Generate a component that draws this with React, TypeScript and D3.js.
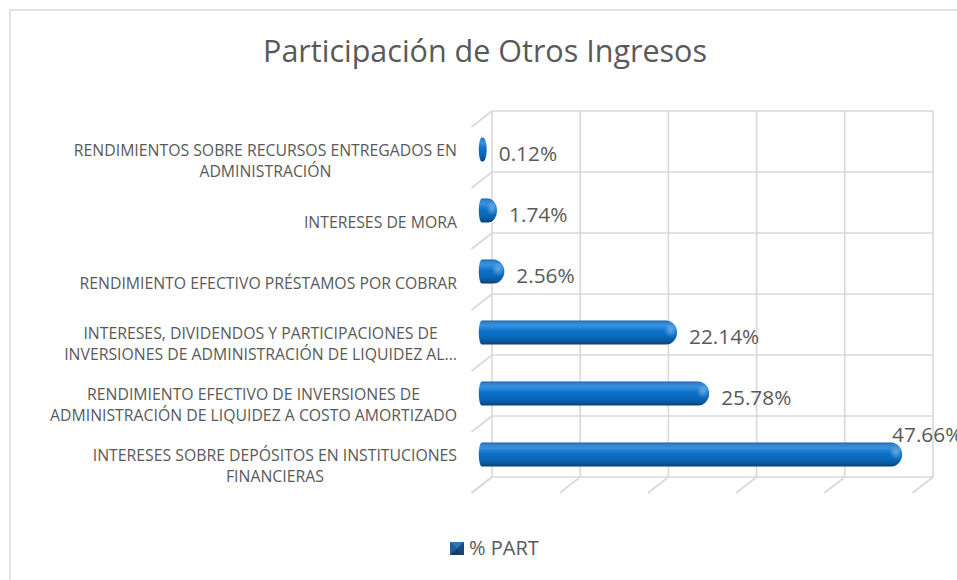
import React, { useEffect, useRef } from "react";
import * as d3 from "d3";

const title = "Participación de Otros Ingresos";
const categoryLines: string[][] = [
  ["RENDIMIENTOS SOBRE RECURSOS ENTREGADOS EN", "ADMINISTRACIÓN"],
  ["INTERESES DE MORA"],
  ["RENDIMIENTO EFECTIVO PRÉSTAMOS POR COBRAR"],
  ["INTERESES, DIVIDENDOS Y PARTICIPACIONES DE", "INVERSIONES DE ADMINISTRACIÓN DE LIQUIDEZ AL..."],
  ["RENDIMIENTO EFECTIVO DE INVERSIONES DE", "ADMINISTRACIÓN DE LIQUIDEZ A COSTO AMORTIZADO"],
  ["INTERESES SOBRE DEPÓSITOS EN INSTITUCIONES", "FINANCIERAS"],
];
const values = [0.12, 1.74, 2.56, 22.14, 25.78, 47.66];
const valueLabels = ["0.12%", "1.74%", "2.56%", "22.14%", "25.78%", "47.66%"];
const xTicks = [0, 10, 20, 30, 40, 50];
const seriesName = "% PART";

const W = 957;
const H = 580;
const FONT = "'Open Sans', 'Noto Sans', sans-serif";
const TXT = "#595959";
const GRID = "#d9d9d9";

export default function App() {
  const ref = useRef<SVGSVGElement | null>(null);

  useEffect(() => {
    const svg = d3.select(ref.current);
    svg.selectAll("*").remove();

    const defs = svg.append("defs");
    const g1 = defs.append("linearGradient").attr("id", "cyl").attr("x1", 0).attr("y1", 0).attr("x2", 0).attr("y2", 1);
    [
      [0, "#1a5c9e"],
      [0.08, "#2f84d2"],
      [0.22, "#3a8fdc"],
      [0.45, "#0a72cc"],
      [0.75, "#0a64b4"],
      [0.92, "#0a4f90"],
      [1, "#083d70"],
    ].forEach(([o, c]) => g1.append("stop").attr("offset", o as number).attr("stop-color", c as string));
    const rg = defs.append("radialGradient").attr("id", "spot");
    rg.append("stop").attr("offset", 0).attr("stop-color", "#ffffff").attr("stop-opacity", 0.35);
    rg.append("stop").attr("offset", 1).attr("stop-color", "#ffffff").attr("stop-opacity", 0);

    // frame
    svg.append("rect").attr("x", 10).attr("y", 10).attr("width", W + 20).attr("height", H + 20)
      .attr("fill", "#fff").attr("stroke", GRID).attr("stroke-width", 1.5);

    // title
    svg.append("text").attr("x", 485).attr("y", 62).attr("text-anchor", "middle")
      .attr("font-family", FONT).attr("font-size", 30.5).attr("fill", TXT).text(title);

    // 3D geometry
    const depthX = -20.5;
    const depthY = 16;
    const xBack = d3.scaleLinear().domain([0, 50]).range([492, 933]);
    const yBack = d3.scaleBand<number>().domain(d3.range(values.length)).range([111, 477]).paddingInner(0).paddingOuter(0);
    const bandTop = 111, bandBot = 477;

    const grid = svg.append("g").attr("stroke", GRID).attr("stroke-width", 1.6).attr("fill", "none");
    xTicks.forEach((t) => {
      grid.append("line").attr("x1", xBack(t)).attr("x2", xBack(t)).attr("y1", bandTop).attr("y2", bandBot);
      grid.append("line").attr("x1", xBack(t)).attr("y1", bandBot).attr("x2", xBack(t) + depthX).attr("y2", bandBot + depthY);
    });
    const bounds = d3.range(values.length + 1).map((i) => bandTop + i * yBack.bandwidth());
    bounds.forEach((y) => {
      grid.append("line").attr("x1", xBack(0)).attr("x2", xBack(50)).attr("y1", y).attr("y2", y);
      grid.append("line").attr("x1", xBack(0)).attr("y1", y).attr("x2", xBack(0) + depthX).attr("y2", y + depthY);
    });

    // bars
    const xMid = (v: number) => xBack(v) + depthX / 2;
    const barH = 24;
    const bars = svg.append("g");
    values.forEach((v, i) => {
      const c = (yBack(i) as number) + yBack.bandwidth() / 2 + depthY / 2;
      const L = xMid(0) - 3;
      const R = Math.max(xMid(v), L + 8);
      const rc = Math.min(11, (R - L) / 2);
      const t = c - barH / 2, b = c + barH / 2;
      const lx = Math.min(L + 3, R - rc);
      bars.append("path")
        .attr("d", `M${lx},${t} H${R - rc} A${rc},${barH / 2} 0 0 1 ${R - rc},${b} H${lx} A3,${barH / 2} 0 0 1 ${lx},${t} Z`)
        .attr("fill", "url(#cyl)");
      if (R - L > 14) {
        bars.append("ellipse").attr("cx", R - rc * 0.55).attr("cy", c - 2).attr("rx", Math.min(7, rc * 0.7)).attr("ry", 7)
          .attr("fill", "url(#spot)");
      }
      const last = i === values.length - 1;
      bars.append("text")
        .attr("x", last ? R - 10 : R + 12)
        .attr("y", last ? c - 13 : c + 11)
        .attr("font-family", FONT).attr("font-size", 20.8).attr("fill", TXT)
        .text(valueLabels[i]);
    });

    // category labels
    const labelRight = 457;
    categoryLines.forEach((lines, i) => {
      const c = (yBack(i) as number) + yBack.bandwidth() / 2 + 19;
      const g = svg.append("g");
      const texts = lines.map((ln, k) =>
        g.append("text")
          .attr("y", c + 6 + (k - (lines.length - 1) / 2) * 21)
          .attr("font-family", FONT).attr("font-size", 15.8).attr("fill", TXT)
          .attr("text-anchor", "middle").text(ln)
      );
      const widths = texts.map((t) => (t.node() as SVGTextElement).getComputedTextLength());
      const maxW = d3.max(widths) || 0;
      texts.forEach((t) => t.attr("x", labelRight - maxW / 2));
    });

    // legend
    const lg = svg.append("g");
    lg.append("rect").attr("x", 450).attr("y", 542).attr("width", 14).attr("height", 13).attr("fill", "#2e75b6");
    lg.append("polygon").attr("points", "450,542 457,548.5 450,555").attr("fill", "#1f5e9c");
    lg.append("polygon").attr("points", "464,542 457,548.5 464,555").attr("fill", "#174a7c");
    lg.append("polygon").attr("points", "450,555 457,548.5 464,555").attr("fill", "#143f6b");
    lg.append("text").attr("x", 469).attr("y", 554.5).attr("font-family", FONT).attr("font-size", 20)
      .attr("fill", TXT).text(seriesName);
  }, []);

  return (
    <svg
      ref={ref}
      width={W}
      height={H}
      style={{ position: "absolute", left: 0, top: 0, background: "#fff" }}
    />
  );
}
